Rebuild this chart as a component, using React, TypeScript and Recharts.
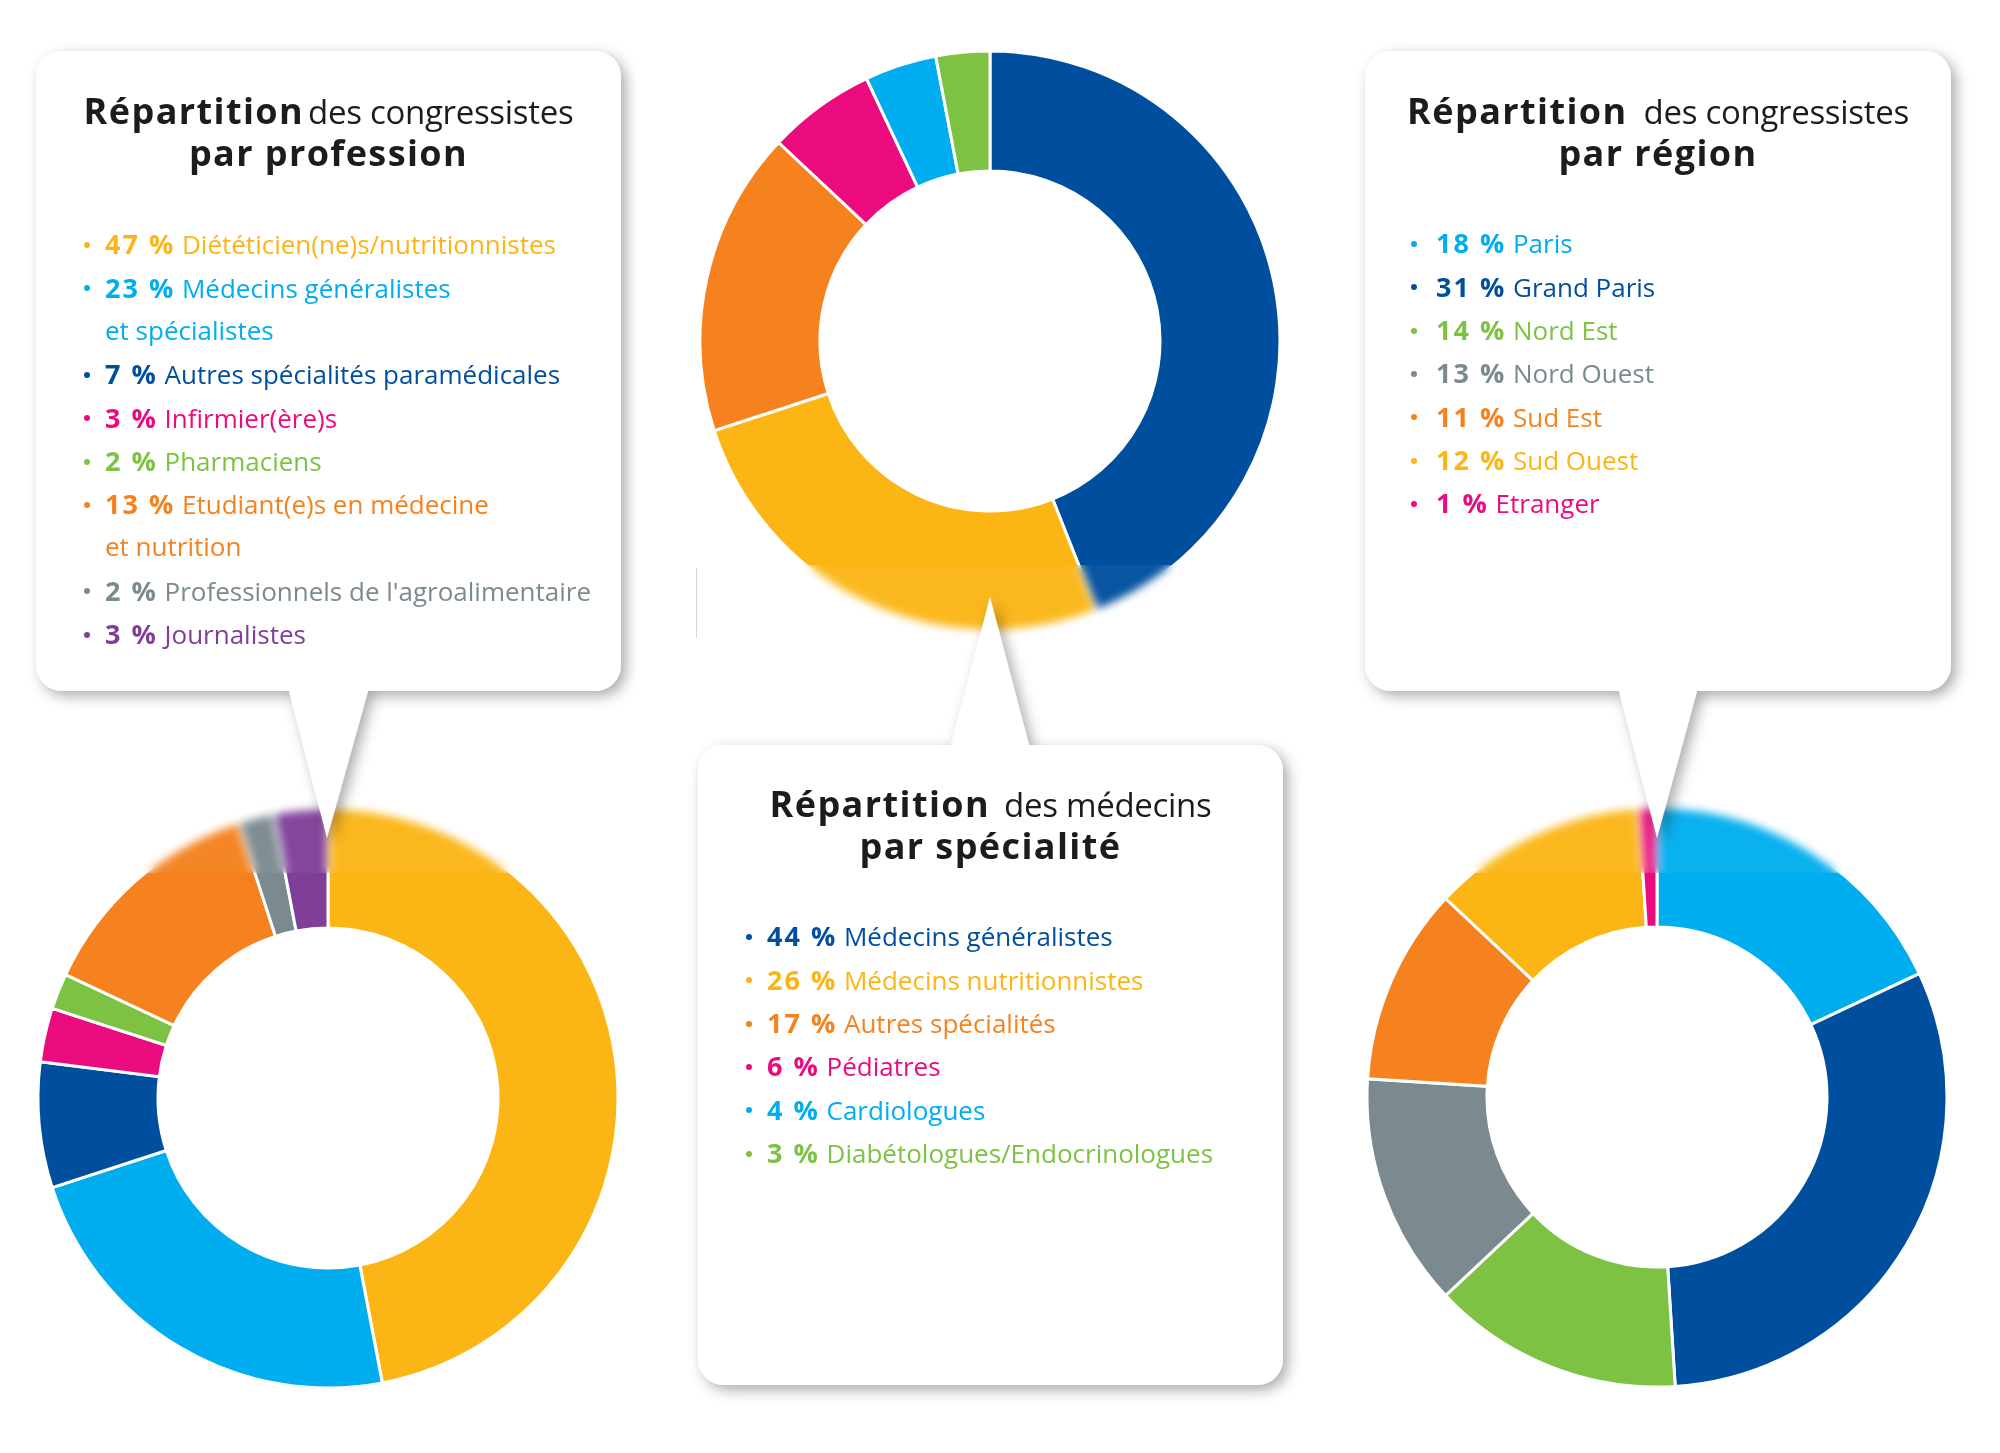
import React from "react";
import { PieChart, Pie, Cell } from "recharts";

const YELLOW = "#FBB615";
const CYAN = "#00AEEF";
const BLUE = "#004F9F";
const PINK = "#EC0B7F";
const GREEN = "#7DC242";
const ORANGE = "#F5821F";
const GRAY = "#7B8A8F";
const PURPLE = "#7F3F98";

// Répartition des congressistes par profession
const professionLabels = [
  "Diététicien(ne)s/nutritionnistes",
  "Médecins généralistes\net spécialistes",
  "Autres spécialités paramédicales",
  "Infirmier(ère)s",
  "Pharmaciens",
  "Etudiant(e)s en médecine\net nutrition",
  "Professionnels de l'agroalimentaire",
  "Journalistes",
];
const professionValues = [47, 23, 7, 3, 2, 13, 2, 3];
const professionColors = [YELLOW, CYAN, BLUE, PINK, GREEN, ORANGE, GRAY, PURPLE];

// Répartition des médecins par spécialité
const specialityLabels = [
  "Médecins généralistes",
  "Médecins nutritionnistes",
  "Autres spécialités",
  "Pédiatres",
  "Cardiologues",
  "Diabétologues/Endocrinologues",
];
const specialityValues = [44, 26, 17, 6, 4, 3];
const specialityColors = [BLUE, YELLOW, ORANGE, PINK, CYAN, GREEN];

// Répartition des congressistes par région
const regionLabels = ["Paris", "Grand Paris", "Nord Est", "Nord Ouest", "Sud Est", "Sud Ouest", "Etranger"];
const regionValues = [18, 31, 14, 13, 11, 12, 1];
const regionColors = [CYAN, BLUE, GREEN, GRAY, ORANGE, YELLOW, PINK];

const FONT = "'Open Sans', 'Noto Sans', sans-serif";
const LINE = 43.3;
const INNER = 170;
const OUTER = 290;

const toData = (labels: string[], values: number[]) =>
  labels.map((l, i) => ({ name: l.replace("\n", " "), value: values[i] }));

function calloutPath(
  x: number, y: number, w: number, h: number, r: number,
  edge: "top" | "bottom", x1: number, x2: number, tipX: number, tipY: number
) {
  let d = `M ${x + r} ${y}`;
  if (edge === "top") d += ` L ${x1} ${y} L ${tipX} ${tipY} L ${x2} ${y}`;
  d += ` L ${x + w - r} ${y} A ${r} ${r} 0 0 1 ${x + w} ${y + r}`;
  d += ` L ${x + w} ${y + h - r} A ${r} ${r} 0 0 1 ${x + w - r} ${y + h}`;
  if (edge === "bottom") d += ` L ${x2} ${y + h} L ${tipX} ${tipY} L ${x1} ${y + h}`;
  d += ` L ${x + r} ${y + h} A ${r} ${r} 0 0 1 ${x} ${y + h - r}`;
  d += ` L ${x} ${y + r} A ${r} ${r} 0 0 1 ${x + r} ${y} Z`;
  return d;
}

function Title({ cx, top, rest, line2, gap }: { cx: number; top: number; rest: string; line2: string; gap: number }) {
  const lineStyle: React.CSSProperties = {
    position: "absolute", left: 0, width: 600, height: 42, lineHeight: "42px",
    textAlign: "center", whiteSpace: "nowrap",
  };
  return (
    <div style={{ position: "absolute", left: cx - 300, width: 600, top, fontFamily: FONT, color: "#1d1b1c" }}>
      <div style={{ ...lineStyle, top: 0 }}>
        <span style={{ fontWeight: 700, fontSize: 36, letterSpacing: 1.4, marginRight: gap }}>Répartition</span>
        <span style={{ fontWeight: 400, fontSize: 33, letterSpacing: -0.3 }}>{rest}</span>
      </div>
      <div style={{ ...lineStyle, top: 42, fontWeight: 700, fontSize: 36, letterSpacing: 1.4 }}>{line2}</div>
    </div>
  );
}

function Legend({
  labels, values, colors, bulletX, textX, firstY,
}: { labels: string[]; values: number[]; colors: string[]; bulletX: number; textX: number; firstY: number }) {
  const rows: React.ReactNode[] = [];
  let line = 0;
  labels.forEach((label, i) => {
    const parts = label.split("\n");
    parts.forEach((p, j) => {
      const cy = firstY + line * LINE;
      if (j === 0) {
        rows.push(
          <div
            key={`b${i}`}
            style={{
              position: "absolute", left: bulletX - 3, top: cy - 2, width: 6, height: 6,
              borderRadius: 3, background: colors[i],
            }}
          />
        );
      }
      rows.push(
        <div
          key={`t${i}-${j}`}
          style={{
            position: "absolute", left: textX, top: cy - LINE / 2, height: LINE, lineHeight: `${LINE}px`,
            whiteSpace: "nowrap", fontFamily: FONT, color: colors[i], fontSize: 26,
          }}
        >
          {j === 0 && (
            <span style={{ fontWeight: 700, fontSize: 27, letterSpacing: 2 }}>{`${values[i]} %`}</span>
          )}
          {j === 0 ? " " + p : p}
        </div>
      );
      line++;
    });
  });
  return <>{rows}</>;
}

export default function App() {
  const donuts = [
    { id: "prof", cx: 328, cy: 1098, labels: professionLabels, values: professionValues, colors: professionColors },
    { id: "spec", cx: 990, cy: 341, labels: specialityLabels, values: specialityValues, colors: specialityColors },
    { id: "reg", cx: 1657, cy: 1097, labels: regionLabels, values: regionValues, colors: regionColors },
  ];

  const blurBand = (left: number, top: number, width: number, height: number, key: string) => (
    <div
      key={key}
      style={{
        position: "absolute", left, top, width, height,
        backdropFilter: "blur(4px)", WebkitBackdropFilter: "blur(4px)",
        background: "rgba(255,255,255,0.04)",
      }}
    />
  );

  return (
    <div
      style={{
        position: "absolute", left: 0, top: 0, width: 2000, height: 1453,
        background: "#ffffff", overflow: "hidden",
      }}
    >
      <div style={{ position: "absolute", left: 0, top: 0 }}>
        <PieChart width={2000} height={1453} margin={{ top: 0, right: 0, bottom: 0, left: 0 }}>
          {donuts.map((d) => (
            <Pie
              key={d.id}
              data={toData(d.labels, d.values)}
              dataKey="value"
              nameKey="name"
              cx={d.cx}
              cy={d.cy}
              innerRadius={INNER}
              outerRadius={OUTER}
              startAngle={90}
              endAngle={-270}
              stroke="#ffffff"
              strokeWidth={3}
              isAnimationActive={false}
            >
              {d.values.map((_, i) => (
                <Cell key={i} fill={d.colors[i]} />
              ))}
            </Pie>
          ))}
        </PieChart>
      </div>

      {blurBand(128, 795, 385, 78, "b1")}
      {blurBand(1456, 795, 396, 78, "b2")}
      {blurBand(790, 565, 397, 73, "b3")}
      <div style={{ position: "absolute", left: 0, top: 638, width: 2000, height: 60, background: "#ffffff" }} />
      <div style={{ position: "absolute", left: 696, top: 568, width: 1, height: 70, background: "#d8d8d8" }} />

      <svg width={2000} height={1453} style={{ position: "absolute", left: 0, top: 0 }}>
        <defs>
          <filter id="sh" x="-20%" y="-20%" width="140%" height="140%">
            <feDropShadow dx="5" dy="5" stdDeviation="7" floodColor="#000" floodOpacity="0.33" />
          </filter>
        </defs>
        <g filter="url(#sh)" fill="#ffffff">
          <path d={calloutPath(36, 51, 585, 640, 26, "bottom", 289, 368, 327, 838)} />
          <path d={calloutPath(1365, 51, 586, 640, 26, "bottom", 1619, 1697, 1657, 838)} />
          <path d={calloutPath(698, 745, 585, 640, 26, "top", 951, 1029, 990, 597)} />
        </g>
      </svg>

      <Title cx={328.5} top={90} rest="des congressistes" line2="par profession" gap={4} />
      <Title cx={1658} top={90} rest="des congressistes" line2="par région" gap={16} />
      <Title cx={990.5} top={783} rest="des médecins" line2="par spécialité" gap={14} />

      <Legend labels={professionLabels} values={professionValues} colors={professionColors} bulletX={87} textX={105} firstY={244} />
      <Legend labels={regionLabels} values={regionValues} colors={regionColors} bulletX={1414} textX={1436} firstY={243} />
      <Legend labels={specialityLabels} values={specialityValues} colors={specialityColors} bulletX={749} textX={767} firstY={936} />
    </div>
  );
}
